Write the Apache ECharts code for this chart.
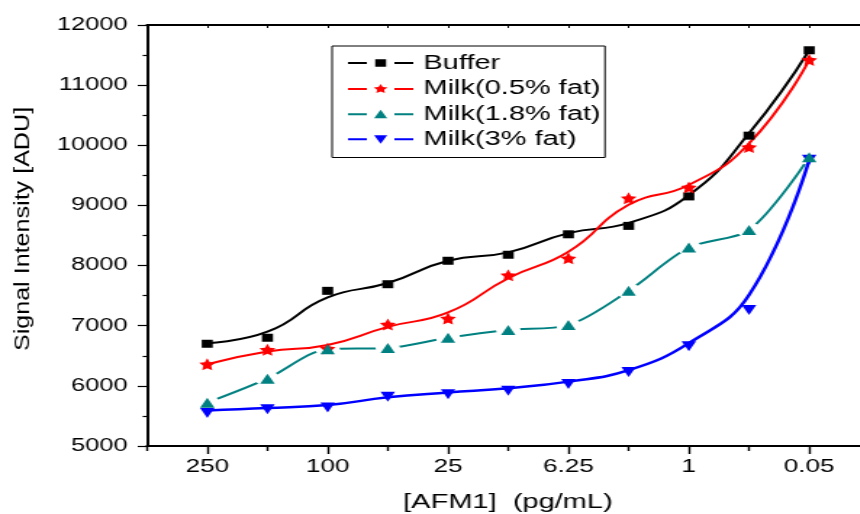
<!DOCTYPE html>
<html>
<head>
<meta charset="utf-8">
<title>Signal intensity vs AFM1 concentration</title>
<script src="https://cdn.jsdelivr.net/npm/echarts@6/dist/echarts.min.js"></script>
<style>
  html, body { margin: 0; padding: 0; width: 860px; height: 514px; overflow: hidden; background: #fff; }
  /* The figure is laid out on a narrower canvas and widened horizontally */
  #chart { width: 620px; height: 514px; transform: scaleX(1.45); transform-origin: 0 0; }
</style>
</head>
<body>
<div id="chart"></div>
<script>
// Dilution steps of AFM1 (pg/mL); only every other step carries a printed label
const concentrationLabels = ['250', '', '100', '', '25', '', '6.25', '', '1', '', '0.05'];

const seriesNames = ['Buffer', 'Milk(0.5% fat)', 'Milk(1.8% fat)', 'Milk(3% fat)'];

// Measured signal (ADU) at each dilution step
const bufferPts = [6700, 6800, 7580, 7690, 8080, 8180, 8520, 8660, 9150, 10160, 11580];
const milk05Pts = [6360, 6600, 6620, 7020, 7120, 7840, 8120, 9120, 9300, 9970, 11420];
const milk18Pts = [5720, 6120, 6610, 6630, 6800, 6930, 7010, 7580, 8300, 8590, 9800];
const milk3Pts  = [5550, 5610, 5640, 5820, 5860, 5920, 6030, 6230, 6660, 7260, 9760];

// Smoothed trend curves evaluated at each dilution step
const bufferFit = [6710, 6900, 7470, 7710, 8080, 8220, 8540, 8710, 9170, 10200, 11580];
const milk05Fit = [6360, 6570, 6680, 6980, 7220, 7790, 8230, 9010, 9340, 10030, 11420];
const milk18Fit = [5720, 6120, 6610, 6630, 6800, 6930, 7010, 7580, 8300, 8590, 9800];
const milk3Fit  = [5590, 5630, 5680, 5810, 5890, 5960, 6070, 6260, 6710, 7510, 9760];

const yTicks = { min: 5000, max: 12000, step: 1000 };

const FONT = '"Liberation Sans", Arial, Helvetica, sans-serif';
const colors = ['#000000', '#ff0000', '#008080', '#0000ff'];

// x position of each step: steps sit at 1..11 on a 0..12 axis
const toXY = arr => arr.map((v, i) => [i + 1, v]);
const labelAt = v => concentrationLabels[v - 1] || '';
const majorSteps = concentrationLabels.map((l, i) => i + 1).filter((x, i) => concentrationLabels[i] !== '');
const minorSteps = [];
for (let x = 0; x <= concentrationLabels.length + 1; x++) if (!majorSteps.includes(x)) minorSteps.push(x);

// Five-pointed star shape
const STAR_D = 'M22.5,0L23.97,2.98L27.26,3.46L24.88,5.77L25.44,9.05L22.5,7.5L19.56,9.05L20.12,5.77L17.74,3.46L21.03,2.98Z';
const STAR = 'path://' + STAR_D;

// Legend keys: a line broken around the marker
const keyLines = 'M0,4H13V6H0Z M32,4H45V6H32Z ';
const legendIcons = [
  'path://' + keyLines + 'M18.75,1.25H26.25V8.75H18.75Z',
  'path://' + keyLines + STAR_D,
  'path://' + keyLines + 'M22.5,0.5L27,9L18,9Z',
  'path://' + keyLines + 'M18,1L27,1L22.5,9.5Z'
];

function trend(name, data, color, width, z, smooth) {
  return {
    name, type: 'line', data: toXY(data), smooth: smooth,
    symbol: 'none', color, z,
    lineStyle: { color, width },
    silent: true
  };
}
function markers(name, data, color, symbol, size, rotate, z) {
  return {
    name, type: 'scatter', data: toXY(data), color, z,
    symbol, symbolSize: size, symbolRotate: rotate || 0,
    itemStyle: { color, opacity: 1 }, silent: true
  };
}

const chart = echarts.init(document.getElementById('chart'), null, { renderer: 'canvas' });

chart.setOption({
  animation: false,
  backgroundColor: '#fff',
  grid: { left: 101.4, right: 20.4, top: 25, bottom: 68 },
  xAxis: [
    {
      type: 'value', min: 0, max: concentrationLabels.length + 1, interval: 1,
      position: 'bottom',
      axisLine: { show: true, onZero: false, lineStyle: { color: '#000', width: 2.2 } },
      axisTick: { show: true, customValues: majorSteps, length: 8, lineStyle: { color: '#000', width: 1.4 } },
      axisLabel: {
        customValues: majorSteps, formatter: v => labelAt(v),
        color: '#000', fontSize: 18, fontFamily: FONT, margin: 12
      },
      splitLine: { show: false }
    },
    {
      type: 'value', min: 0, max: concentrationLabels.length + 1, interval: 1,
      position: 'bottom',
      axisLine: { show: false },
      axisTick: { show: true, customValues: minorSteps, length: 5, lineStyle: { color: '#000', width: 1.4 } },
      axisLabel: { show: false },
      splitLine: { show: false }
    },
    {
      type: 'value', min: 0, max: concentrationLabels.length + 1, interval: 1,
      position: 'top',
      axisLine: { show: true, lineStyle: { color: '#000', width: 2 } },
      axisTick: { show: true, inside: true, length: 3, lineStyle: { color: '#000', width: 1 } },
      axisLabel: { show: false },
      splitLine: { show: false }
    }
  ],
  yAxis: [
    {
      type: 'value', min: yTicks.min, max: yTicks.max, interval: yTicks.step,
      axisLine: { show: true, onZero: false, lineStyle: { color: '#000', width: 1.7 } },
      axisTick: { show: true, length: 6.4, lineStyle: { color: '#000', width: 1.2 } },
      minorTick: { show: true, splitNumber: 2, length: 3, lineStyle: { color: '#000', width: 1.2 } },
      axisLabel: { color: '#000', fontSize: 17.5, fontFamily: FONT, margin: 13.5, formatter: v => String(v) },
      splitLine: { show: false }
    },
    {
      type: 'value', min: yTicks.min, max: yTicks.max, interval: yTicks.step,
      position: 'right',
      axisLine: { show: true, lineStyle: { color: '#000', width: 1.7 } },
      axisTick: { show: false }, axisLabel: { show: false }, splitLine: { show: false }
    }
  ],
  legend: {
    orient: 'vertical', left: 229, top: 46,
    data: seriesNames.map((n, i) => ({ name: n, icon: legendIcons[i] })),
    itemWidth: 45, itemHeight: 10, itemGap: 5.5,
    symbolKeepAspect: true,
    padding: [7, 3, 8, 11],
    borderColor: '#000', borderWidth: 1,
    itemStyle: { borderWidth: 0 },
    textStyle: { fontSize: 20, lineHeight: 20, fontFamily: FONT, color: '#000', padding: [0, 0, 0, 2] },
    selectedMode: false
  },
  graphic: [
    {
      type: 'text', x: 15.5, y: 229, rotation: Math.PI / 2, scaleX: 1.62,
      style: { text: 'Signal Intensity [ADU]', fontSize: 15.5, fontFamily: FONT, fill: '#000', align: 'center', verticalAlign: 'middle' }
    },
    {
      type: 'text', x: 350.3, y: 502,
      style: { text: '[AFM1]  (pg/mL)', fontSize: 20, fontFamily: FONT, fill: '#000', align: 'center', verticalAlign: 'middle' }
    }
  ],
  series: [
    trend(seriesNames[0], bufferFit, colors[0], 2, 4, 0.5),
    trend(seriesNames[1], milk05Fit, colors[1], 2, 4, 0.5),
    trend(seriesNames[2], milk18Fit, colors[2], 2, 2, 0.3),
    // white halo that opens the teal curve around its markers
    {
      type: 'scatter', data: toXY(milk18Pts), symbol: 'circle', symbolSize: [17, 15],
      itemStyle: { color: '#fff', opacity: 1 }, z: 3, silent: true
    },
    trend(seriesNames[3], milk3Fit, colors[3], 2.5, 4, 0.45),
    markers(seriesNames[0], bufferPts, colors[0], 'rect', [7.6, 8], 0, 5),
    markers(seriesNames[1], milk05Pts, colors[1], STAR, [11, 12], 0, 5),
    markers(seriesNames[3], milk3Pts, colors[3], 'triangle', [10, 10], 180, 5),
    markers(seriesNames[2], milk18Pts, colors[2], 'triangle', [10, 10], 0, 6)
  ]
});
</script>
</body>
</html>
